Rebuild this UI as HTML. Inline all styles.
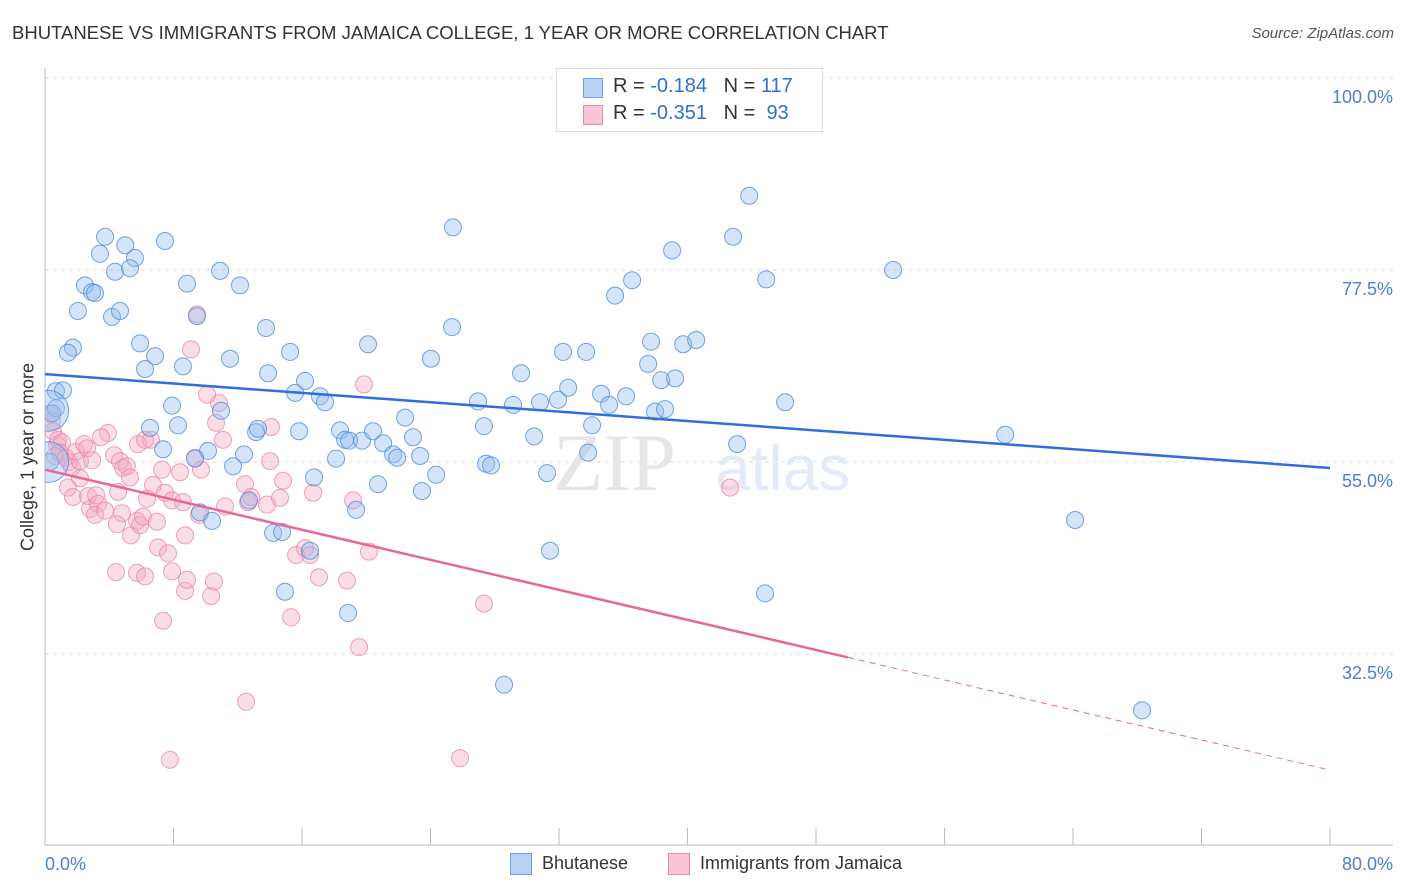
<!DOCTYPE html>
<html><head><meta charset="utf-8"><style>
body{margin:0;background:#fff;font-family:"Liberation Sans",sans-serif;}
#wrap{position:relative;width:1406px;height:892px;overflow:hidden;}
.t{position:absolute;white-space:nowrap;}
</style></head><body>
<div id="wrap">
<div class="t" style="left:12px;top:22px;font-size:18.5px;color:#333;">BHUTANESE VS IMMIGRANTS FROM JAMAICA COLLEGE, 1 YEAR OR MORE CORRELATION CHART</div>
<div class="t" style="right:12px;top:25px;font-size:15px;color:#555;font-style:italic;">Source: ZipAtlas.com</div>
<svg id="svg" width="1406" height="892" style="position:absolute;left:0;top:0"></svg>
<div class="t" style="left:28px;top:457px;font-size:18px;color:#333;transform:translate(-50%,-50%) rotate(-90deg);transform-origin:center;">College, 1 year or more</div>
<div style="position:absolute;left:556px;top:68px;width:265px;height:62px;border:1px solid #ddd;background:#fff;">
 <div style="position:absolute;left:26px;top:9px;width:18px;height:18px;background:#b7d2f5;border:1px solid #6a9fe0;"></div>
 <div class="t" style="left:56px;top:6px;font-size:20px;color:#333;">R = <span style="color:#2f6fd6">-0.184</span>&nbsp;&nbsp;&nbsp;N = <span style="color:#2f6fd6">117</span></div>
 <div style="position:absolute;left:26px;top:36px;width:18px;height:18px;background:#f8c6d6;border:1px solid #e889a8;"></div>
 <div class="t" style="left:56px;top:33px;font-size:20px;color:#333;">R = <span style="color:#2f6fd6">-0.351</span>&nbsp;&nbsp;&nbsp;N = &nbsp;<span style="color:#2f6fd6">93</span></div>
</div>
<div style="position:absolute;left:510px;top:853px;">
 <div style="position:absolute;left:0;top:0;width:20px;height:20px;background:#b7d2f5;border:1px solid #6a9fe0;"></div>
 <div class="t" style="left:32px;top:0px;font-size:18px;color:#333;">Bhutanese</div></div>
<div style="position:absolute;left:668px;top:853px;">
 <div style="position:absolute;left:0;top:0;width:20px;height:20px;background:#f8c6d6;border:1px solid #e889a8;"></div>
 <div class="t" style="left:32px;top:0px;font-size:18px;color:#333;">Immigrants from Jamaica</div></div>
</div>
<script>
const blueX=[3.74,5.0,7.47,3.42,5.6,4.36,5.29,2.49,2.93,3.11,2.05,4.17,4.67,8.84,10.9,12.14,9.46,5.92,1.74,1.43,6.85,6.23,8.59,11.52,13.76,15.26,13.89,16.19,15.57,17.12,17.43,20.11,25.4,25.34,24.03,29.64,26.96,29.14,30.82,32.25,33.69,32.57,31.94,34.62,35.12,36.18,35.49,36.55,39.04,42.84,43.84,44.9,52.8,37.73,37.55,38.36,39.23,39.73,40.54,37.98,38.6,46.08,0.68,1.12,0.68,0.44,0.31,7.91,6.54,8.28,10.96,10.15,9.34,7.35,13.14,12.39,11.71,13.26,15.82,18.37,18.68,18.93,19.74,20.42,21.05,22.42,22.91,21.67,21.92,23.35,23.47,24.35,27.33,30.45,34.06,33.81,27.46,27.77,31.26,43.09,59.78,20.73,18.12,16.75,9.65,10.4,12.7,14.2,14.76,16.5,19.37,18.87,14.94,31.44,28.58,44.83,64.13,68.3,0.2,0.2];
const blueY=[81.4,80.4,80.9,79.4,78.9,77.3,77.7,75.7,74.9,74.8,72.7,72.0,72.7,75.9,77.4,75.7,72.1,68.9,68.4,67.8,67.4,65.9,66.2,67.1,70.7,67.9,65.4,64.5,63.1,62.7,62.0,68.8,82.5,70.8,67.1,65.4,62.1,61.7,62.0,67.9,67.9,63.7,62.3,63.0,61.7,62.7,74.5,76.3,79.8,81.4,86.2,76.4,77.5,69.1,66.5,64.6,64.8,68.8,69.3,60.9,61.2,62.0,63.3,63.4,61.3,60.7,55.0,61.6,59.0,59.3,61.0,56.3,55.4,56.5,58.5,55.9,54.5,58.9,58.6,58.7,57.6,57.5,57.5,58.6,57.2,60.2,57.9,55.9,55.5,55.7,51.6,53.5,59.2,58.0,59.3,56.1,54.8,54.6,53.7,57.1,58.2,52.4,55.4,53.2,49.1,48.1,50.5,46.7,46.8,44.6,49.4,37.3,39.8,44.6,28.9,39.6,48.2,25.9,61.0,55.0];
const blueR=[];for(let i=0;i<blueX.length;i++)blueR.push(i>=blueX.length-2?2.4:1);
const pinkX=[0.31,0.44,0.5,0.75,0.81,1.06,0.62,0.93,1.31,1.49,1.68,1.93,2.18,2.43,2.62,2.18,1.43,1.74,2.68,2.8,3.18,3.3,3.11,3.74,3.92,3.49,2.93,4.3,4.67,4.86,5.1,5.29,4.55,4.79,4.48,5.35,5.73,5.92,6.1,6.35,6.6,5.79,6.23,6.72,6.97,7.04,7.47,7.66,7.29,7.91,8.59,8.72,8.41,9.34,9.59,9.71,10.65,10.83,10.09,9.46,9.09,11.08,11.21,12.45,12.64,12.83,13.82,14.01,14.07,14.63,14.82,15.63,16.19,16.5,16.69,17.06,15.32,19.18,19.86,20.17,18.8,19.55,12.52,7.78,7.35,5.73,4.42,6.23,7.91,8.72,8.84,10.34,10.52,27.33,42.65,25.84];
const pinkY=[60.7,59.8,58.6,57.0,57.6,57.3,55.7,56.1,55.5,55.0,54.4,56.2,55.1,57.1,56.6,53.1,52.0,50.9,51.0,49.5,51.1,50.1,48.8,49.3,58.4,57.9,55.2,55.8,55.1,54.3,54.5,53.2,51.5,49.0,47.7,46.4,48.1,47.6,48.6,50.7,57.6,57.1,57.6,52.3,48.0,45.0,51.4,44.3,54.1,50.5,50.3,46.4,53.8,55.5,48.8,54.1,59.6,61.9,62.9,72.3,68.2,57.6,49.8,52.4,50.3,50.9,50.0,55.1,59.1,50.8,52.8,44.1,44.9,44.1,51.4,41.5,36.8,50.5,64.1,44.5,41.1,33.3,26.9,20.1,36.4,42.0,42.1,41.6,42.2,39.9,41.2,39.3,41.0,38.4,52.0,20.3];
const blueTrend=[65.3,54.3];
const pinkTrend=[54.1,18.9];
const pinkSolidEnd=50;
const yTicks=[100,77.5,55,32.5];
const yTickLabels=["100.0%","77.5%","55.0%","32.5%"];
const xTicks=[0,8,16,24,32,40,48,56,64,72,80];

const NS="http://www.w3.org/2000/svg";
const svg=document.getElementById('svg');
const X=v=>45+v/80*1285;
const Y=v=>78+(100-v)/22.5*192;
function mk(tag,a,parent){const e=document.createElementNS(NS,tag);for(const k in a)e.setAttribute(k,a[k]);(parent||svg).appendChild(e);return e;}
yTicks.forEach((t,i)=>{
 const g=mk('line',{x1:45,x2:1393,y1:Y(t),y2:Y(t),stroke:'#ddd','stroke-dasharray':'4,4'});
 
 
 const tx=mk('text',{x:1393,y:Y(t)+25,'text-anchor':'end','font-size':18,fill:'#4a7fd6','font-family':'Liberation Sans'});
 tx.textContent=yTickLabels[i];
 
 
});
const ax=mk('line',{x1:45,x2:45,y1:68,y2:845,stroke:'#bbb'});


const bx=mk('line',{x1:45,x2:1393,y1:845,y2:845,stroke:'#bbb'});


xTicks.forEach(t=>{const l=mk('line',{x1:X(t),x2:X(t),y1:828,y2:845,stroke:'#bbb'});
 
 });
const x0=mk('text',{x:45,y:870,'font-size':18,fill:'#4a7fd6','font-family':'Liberation Sans'});x0.textContent="0.0%";


const x1=mk('text',{x:1393,y:870,'text-anchor':'end','font-size':18,fill:'#4a7fd6','font-family':'Liberation Sans'});x1.textContent="80.0%";


const wm=mk('text',{x:553,y:490,'font-size':82,fill:'#e6e6e6','font-family':'Liberation Serif'});wm.textContent="ZIP";


const wm2=mk('text',{x:715,y:490,'font-size':64,fill:'#e2ebf7','font-family':'Liberation Sans'});wm2.textContent="atlas";


const clip=mk('clipPath',{id:'c'});mk('rect',{x:45,y:60,width:1360,height:785},clip);
const gp=mk('g',{'clip-path':'url(#c)'});
pinkX.forEach((v,i)=>{const c=mk('circle',{cx:X(v),cy:Y(pinkY[i]),r:8.5,fill:'rgba(245,170,195,0.4)',stroke:'rgba(232,137,168,0.8)','stroke-width':1},gp);
 
 });
blueX.forEach((v,i)=>{const c=mk('circle',{cx:X(v),cy:Y(blueY[i]),r:8.5*blueR[i],fill:'rgba(150,190,240,0.4)',stroke:'rgba(80,140,220,0.8)','stroke-width':1},gp);
 
 });
const bl=mk('line',{x1:X(0),y1:Y(blueTrend[0]),x2:X(80),y2:Y(blueTrend[1]),stroke:'#2f6fd6','stroke-width':2.5});


const py=x=>pinkTrend[0]+(pinkTrend[1]-pinkTrend[0])*x/80;
const pl=mk('line',{x1:X(0),y1:Y(py(0)),x2:X(pinkSolidEnd),y2:Y(py(pinkSolidEnd)),stroke:'#e8679a','stroke-width':2.5});


const pd=mk('line',{x1:X(pinkSolidEnd),y1:Y(py(pinkSolidEnd)),x2:X(80),y2:Y(py(80)),stroke:'#e8679a','stroke-width':1,'stroke-dasharray':'6,5'});


</script>
</body></html>
